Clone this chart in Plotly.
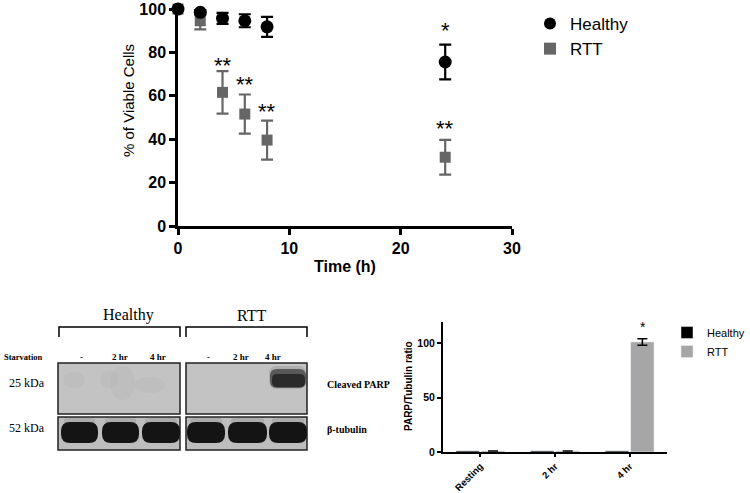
import plotly.graph_objects as go

# ---------------- data ----------------
time_h = [0, 2, 4, 6, 8, 24]
healthy_viable = [100, 98.5, 95.7, 94.6, 91.8, 75.6]
healthy_err = [0, 1, 2.5, 3, 4.6, 8]
rtt_viable = [100, 94.6, 61.6, 51.6, 39.6, 31.7]
rtt_err = [0, 4, 9.8, 9, 9, 8]

star_x = [24, 4, 6, 8, 24]
star_y = [90, 74, 65, 53, 45]
star_text = ["*", "**", "**", "**", "**"]

x_ticks = [0, 10, 20, 30]
y_ticks = [0, 20, 40, 60, 80, 100]

conditions = ["Resting", "2 hr", "4 hr"]
healthy_ratio = [1, 1, 1]
rtt_ratio = [1, 1, 101]
rtt_ratio_err = [0, 0, 3]
bar_ticks = [0, 50, 100]

lane_labels = ["-", "2 hr", "4 hr", "-", "2 hr", "4 hr"]

W, H = 750, 493
SANS = "Arial, Liberation Sans, sans-serif"
SERIF = "Times New Roman, Liberation Serif, serif"


def px(x):
    return x / W


def py(y):
    return 1 - y / H


fig = go.Figure()

# ---------------- top scatter ----------------
fig.add_trace(go.Scatter(
    x=time_h, y=rtt_viable, mode="markers", name="RTT",
    marker=dict(symbol="square", size=11, color="#666666"),
    error_y=dict(type="data", array=rtt_err, color="#666666", thickness=2.2, width=6),
    cliponaxis=False, legendrank=2, legend="legend", xaxis="x", yaxis="y"))
fig.add_trace(go.Scatter(
    x=time_h, y=healthy_viable, mode="markers", name="Healthy",
    marker=dict(symbol="circle", size=13, color="black"),
    error_y=dict(type="data", array=healthy_err, color="black", thickness=2.2, width=6),
    cliponaxis=False, legendrank=1, legend="legend", xaxis="x", yaxis="y"))

# ---------------- bar chart ----------------
fig.add_trace(go.Bar(
    x=conditions, y=healthy_ratio, name="Healthy", marker=dict(color="black"),
    legend="legend2", xaxis="x2", yaxis="y2"))
fig.add_trace(go.Bar(
    x=conditions, y=rtt_ratio, name="RTT", marker=dict(color="#a6a6a6"),
    error_y=dict(type="data", array=rtt_ratio_err, color="black", thickness=1.5, width=5),
    legend="legend2", xaxis="x2", yaxis="y2"))

annotations = []
for sx, sy, st in zip(star_x, star_y, star_text):
    annotations.append(dict(x=sx, y=sy, xref="x", yref="y", text=st, showarrow=False,
                            font=dict(family=SANS, size=22, color="black"),
                            xanchor="center", yanchor="middle"))
annotations.append(dict(x="4 hr", y=115, xref="x2", yref="y2", text="*", showarrow=False,
                        xshift=13, xanchor="center", yanchor="middle",
                        font=dict(family=SANS, size=14, color="black")))


def note(x, y, text, family, size, xanchor="center", angle=0):
    annotations.append(dict(x=px(x), y=py(y), xref="paper", yref="paper", text=text,
                            textangle=angle, showarrow=False, xanchor=xanchor, yanchor="middle",
                            font=dict(family=family, size=size, color="black")))


# axis titles
note(128, 101, "% of Viable Cells", SANS, 15, angle=-90)
note(345, 266, "<b>Time (h)</b>", SANS, 16)
note(408, 386, "<b>PARP/Tubulin ratio</b>", SANS, 10, angle=-90)

# ---------------- western blot ----------------
shapes = []


def rrect(x0, y0, x1, y1, r, fill, opacity=1.0):
    p = (f"M {px(x0 + r)} {py(y0)} L {px(x1 - r)} {py(y0)} "
         f"Q {px(x1)} {py(y0)} {px(x1)} {py(y0 + r)} L {px(x1)} {py(y1 - r)} "
         f"Q {px(x1)} {py(y1)} {px(x1 - r)} {py(y1)} L {px(x0 + r)} {py(y1)} "
         f"Q {px(x0)} {py(y1)} {px(x0)} {py(y1 - r)} L {px(x0)} {py(y0 + r)} "
         f"Q {px(x0)} {py(y0)} {px(x0 + r)} {py(y0)} Z")
    shapes.append(dict(type="path", path=p, xref="paper", yref="paper",
                       fillcolor=fill, line=dict(width=0), opacity=opacity))


def rect(x0, y0, x1, y1, fill, line_color="#222222", lw=1.5):
    shapes.append(dict(type="rect", xref="paper", yref="paper", x0=px(x0), x1=px(x1),
                       y0=py(y1), y1=py(y0), fillcolor=fill,
                       line=dict(color=line_color, width=lw)))


# brackets
for bx0, bx1 in [(59, 180), (186, 307)]:
    path = f"M {px(bx0)} {py(337)} L {px(bx0)} {py(327)} L {px(bx1)} {py(327)} L {px(bx1)} {py(337)}"
    shapes.append(dict(type="path", path=path, xref="paper", yref="paper",
                       line=dict(color="black", width=1.5)))

# panels
for x0, x1 in [(58, 180), (186, 307)]:
    rect(x0, 363, x1, 414, "#c3c3c3")
    rect(x0, 417, x1, 450, "#bdbdbd")

# faint haze upper panel (healthy)
for cx0, cy0, cx1, cy1 in [(100, 370, 118, 388), (110, 366, 135, 400), (135, 377, 165, 393), (63, 372, 85, 388)]:
    shapes.append(dict(type="circle", xref="paper", yref="paper", x0=px(cx0), x1=px(cx1),
                       y0=py(cy1), y1=py(cy0), fillcolor="#b5b5b5", line=dict(width=0), opacity=0.35))

# cleaved PARP band (RTT 4 hr)
rrect(269, 366, 306, 389, 8, "#9a9a9a", 0.5)
rrect(270, 369, 306, 388, 7, "#4a4a4a", 0.85)
rrect(272, 374, 305, 387, 5, "#2a2a2a", 1.0)

# tubulin bands with haze
lanes = [(61, 98), (102, 139), (142, 180), (187, 225), (228, 267), (269, 307)]
for lx0, lx1 in lanes:
    rrect(lx0 + 3, 418, lx1 - 3, 425, 3, "#a0a0a0", 0.6)
    rrect(lx0, 422, lx1, 443, 9, "#141414", 1.0)

# blot texts
note(128, 315, "Healthy", SERIF, 16)
note(251, 315, "RTT", SERIF, 16)
note(2, 357, "<b>Starvation</b>", SERIF, 8.5, xanchor="left")
for lx, lab in zip([81, 120, 158, 208, 241, 273], lane_labels):
    note(lx, 357, f"<b>{lab}</b>", SERIF, 9)
note(27, 383, "25 kDa", SERIF, 12)
note(27, 428, "52 kDa", SERIF, 12)
note(325, 384, "<b>Cleaved PARP</b>", SERIF, 10, xanchor="left")
note(325, 429, "<b>β-tubulin</b>", SERIF, 10, xanchor="left")

fig.update_layout(
    width=W, height=H, margin=dict(l=0, r=0, t=0, b=0, pad=0, autoexpand=False),
    paper_bgcolor="white", plot_bgcolor="white",
    font=dict(family=SANS, color="black"),
    barmode="group", bargap=0.32, bargroupgap=0.08,
    xaxis=dict(domain=[px(178), px(512)], range=[0, 30], tickvals=x_ticks,
               showgrid=False, zeroline=False, showline=True, linecolor="black", linewidth=2.5,
               ticks="outside", ticklen=6, tickwidth=2.5, tickcolor="black", automargin=False,
               tickfont=dict(family=SANS, size=16, weight="bold"), anchor="y", fixedrange=True),
    yaxis=dict(domain=[py(226), py(4.7)], range=[0, 102], tickvals=y_ticks,
               showgrid=False, zeroline=False, showline=True, linecolor="black", linewidth=2.5,
               ticks="outside", ticklen=6, tickwidth=2.5, tickcolor="black", automargin=False,
               tickfont=dict(family=SANS, size=16, weight="bold"), anchor="x", fixedrange=True),
    xaxis2=dict(domain=[px(443), px(667)], showgrid=False, zeroline=False, showline=True,
                linecolor="black", linewidth=2, ticks="outside", ticklen=3, tickwidth=2,
                tickcolor="black", tickangle=-45, automargin=False,
                tickfont=dict(family=SANS, size=9.5, weight="bold"), anchor="y2", fixedrange=True),
    yaxis2=dict(domain=[py(452), py(322)], range=[0, 119.3], tickvals=bar_ticks,
                showgrid=False, zeroline=False, showline=True, linecolor="black", linewidth=2,
                ticks="outside", ticklen=4, tickwidth=2, tickcolor="black", automargin=False,
                tickfont=dict(family=SANS, size=10.5, weight="bold"), anchor="x2", fixedrange=True),
    legend=dict(x=px(530), y=py(6), xanchor="left", yanchor="top",
                font=dict(family=SANS, size=17, color="black"), bgcolor="rgba(0,0,0,0)",
                itemsizing="constant", tracegroupgap=2),
    legend2=dict(x=px(667), y=py(318), xanchor="left", yanchor="top",
                 font=dict(family=SANS, size=11, color="black"), bgcolor="rgba(0,0,0,0)",
                 itemwidth=30),
    showlegend=True,
    shapes=shapes,
    annotations=annotations,
)

fig.write_html("out.html", config={"displayModeBar": False},
               post_script="document.body.style.margin='0px';")
